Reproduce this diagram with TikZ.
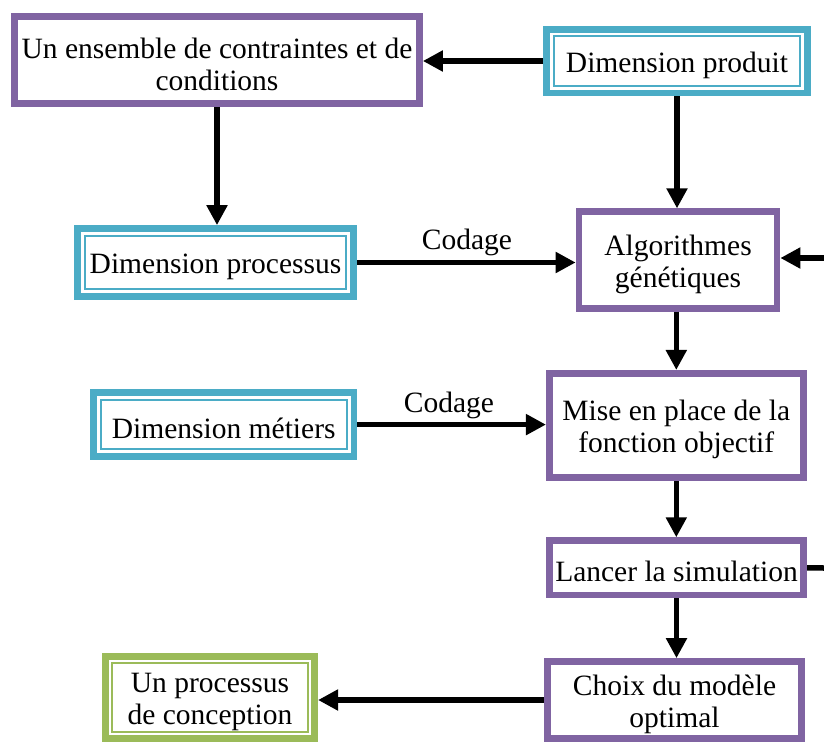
\documentclass[tikz,border=0pt]{standalone}
\usepackage{fontspec}
\setmainfont{Liberation Serif}
\usetikzlibrary{arrows.meta,calc}
\definecolor{boxpurple}{HTML}{8064A2}
\definecolor{boxteal}{HTML}{4BACC6}
\definecolor{boxgreen}{HTML}{9BBB59}
\tikzset{
  txt/.style={font=\fontsize{29.5}{32}\selectfont, align=center},
  boxbase/.style={line width=6.7pt, fill=white, inner sep=0pt, rectangle},
  pbox/.style={boxbase, draw=boxpurple},
  tbox/.style={boxbase, draw=boxteal},
  gbox/.style={boxbase, draw=boxgreen},
  intext/.style={label={[txt, yshift=-4pt]center:#1}},
  inner/.style={line width=2pt},
  conn/.style={line width=5.5pt, -{Triangle[length=20pt,width=20pt]}},
  plain/.style={line width=5.5pt},
}
\begin{document}
\begin{tikzpicture}[x=1pt,y=-1pt]
\useasboundingbox (0,0) rectangle (824,742);
\node[pbox, minimum width=405pt, minimum height=87pt, intext={Un ensemble de contraintes et de\\conditions}] (ens) at (217,60) {};
\node[tbox, minimum width=261pt, minimum height=63.7pt, intext={Dimension produit}] (prod) at (677,61) {};
\node[pbox, minimum width=198pt, minimum height=96.6pt, intext={Algorithmes\\génétiques}] (algo) at (678,260) {};
\node[tbox, minimum width=276pt, minimum height=68pt, intext={Dimension processus}] (proc) at (215.5,262.5) {};
\node[pbox, minimum width=254pt, minimum height=104.4pt, intext={Mise en place de la\\fonction objectif}] (mise) at (676.3,425.5) {};
\node[tbox, minimum width=260.3pt, minimum height=63.7pt, intext={Dimension métiers}] (met) at (223.7,424.6) {};
\node[pbox, minimum width=254.4pt, minimum height=54.3pt, intext={Lancer la simulation}] (lanc) at (676.5,567.8) {};
\node[pbox, minimum width=254.4pt, minimum height=77pt, intext={Choix du modèle\\optimal}] (choix) at (674.5,700) {};
\node[gbox, minimum width=209.4pt, minimum height=82.4pt, intext={Un processus\\de conception}] (conc) at (210,697.5) {};
% inner thin lines of double boxes
\foreach \n/\c in {prod/boxteal,proc/boxteal,met/boxteal,conc/boxgreen}{
  \draw[inner, draw=\c] ($(\n.north west)+(10.5,10.5)$) rectangle ($(\n.south east)+(-10.5,-10.5)$);
}
\coordinate (inR) at (824,258);
\coordinate (outR) at (824,568);
% connectors
\draw[conn] (prod.west) -- (prod.west -| ens.east);
\draw[conn] (ens.south) -- (ens.south |- proc.north);
\draw[conn] (prod.south) -- (prod.south |- algo.north);
\draw[conn] (proc.east) -- (proc.east -| algo.west);
\draw[conn] (inR) -- (inR -| algo.east);
\draw[conn] (mise.north |- algo.south) -- (mise.north);
\draw[conn] (met.east) -- (met.east -| mise.west);
\draw[conn] (mise.south) -- (mise.south |- lanc.north);
\draw[plain] (lanc.east) -- (outR);
\draw[conn] (lanc.south) -- (lanc.south |- choix.north);
\draw[conn] (choix.west) -- (choix.west -| conc.east);
\node[txt] (cod1) at (467,242) {Codage};
\node[txt] (cod2) at (449,405) {Codage};
\end{tikzpicture}
\end{document}
